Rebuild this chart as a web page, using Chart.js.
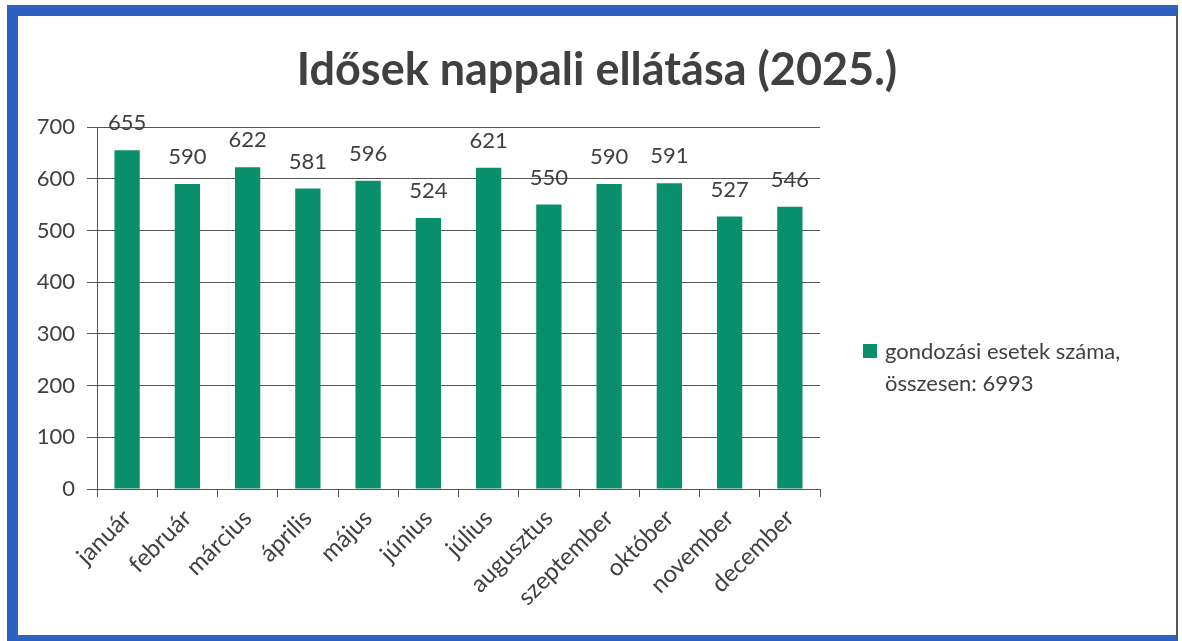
<!DOCTYPE html>
<html lang="hu">
<head>
<meta charset="utf-8">
<title>Idősek nappali ellátása (2025.)</title>
<script src="https://cdn.jsdelivr.net/npm/chart.js@4.4.1/dist/chart.umd.min.js"></script>
<style>
    html, body { margin: 0; padding: 0; background: #fff; }
    #keret {
        position: absolute;
        left: 7px; top: 5px;
        width: 1158px; height: 619px;
        border-top: 11px solid #2d62c2;
        border-left: 11px solid #2d62c2;
        border-bottom: 11px solid #2d62c2;
        border-right: 2px solid #555;
        background: #fff;
    }
    #grafika { display: block; }
</style>
</head>
<body>
<div id="keret">
    <canvas id="grafika" width="1158" height="619"></canvas>
</div>
<script>
const cim = 'Idősek nappali ellátása (2025.)';
const honapok = ['január', 'február', 'március', 'április', 'május', 'június',
    'július', 'augusztus', 'szeptember', 'október', 'november', 'december'];
const esetek = [655, 590, 622, 581, 596, 524, 621, 550, 590, 591, 527, 546];
const jelmagyarazat = ['gondozási esetek száma,', 'összesen: 6993'];
const yTickek = [0, 100, 200, 300, 400, 500, 600, 700];

const betu = 'Lato, "Open Sans", sans-serif';
const szovegSzin = '#404040';
const oszlopSzin = '#0a8f6c';

// cím, értékcímkék és jelmagyarázat rajzolása
const rajzoloPlugin = {
    id: 'rajzolo',
    afterDatasetsDraw(chart) {
        const ctx = chart.ctx;
        const meta = chart.getDatasetMeta(0);
        ctx.save();
        ctx.fillStyle = szovegSzin;
        ctx.font = '22px ' + betu;
        ctx.textAlign = 'center';
        ctx.textBaseline = 'middle';
        meta.data.forEach((bar, i) => {
            ctx.fillText(chart.data.datasets[0].data[i], bar.x, bar.y - 27);
        });

        ctx.font = 'bold 45px ' + betu;
        ctx.fillText(cim, chart.width / 2, 54);

        const area = chart.chartArea;
        const lx = area.right + 43;
        ctx.fillStyle = oszlopSzin;
        ctx.fillRect(lx, 328, 14, 14);
        ctx.fillStyle = szovegSzin;
        ctx.font = '22px ' + betu;
        ctx.textAlign = 'left';
        jelmagyarazat.forEach((sor, i) => {
            ctx.fillText(sor, lx + 22, 336 + i * 32);
        });
        ctx.restore();
    }
};

const ctx = document.getElementById('grafika').getContext('2d');
new Chart(ctx, {
    type: 'bar',
    data: {
        labels: honapok,
        datasets: [{
            label: jelmagyarazat.join(' '),
            data: esetek,
            backgroundColor: oszlopSzin,
            borderWidth: 0,
            barPercentage: 0.42,
            categoryPercentage: 1
        }]
    },
    options: {
        responsive: false,
        animation: false,
        layout: {
            padding: { top: 111, right: 356, left: 0, bottom: 0 }
        },
        scales: {
            x: {
                grid: {
                    offset: true,
                    drawOnChartArea: false,
                    drawTicks: true,
                    tickLength: 8,
                    color: '#555'
                },
                border: { color: '#555', width: 1 },
                ticks: {
                    color: szovegSzin,
                    font: { family: betu, size: 24 },
                    maxRotation: 45,
                    minRotation: 45,
                    padding: 7
                },
                afterFit(scale) { scale.height = 146; }
            },
            y: {
                min: 0,
                max: 700,
                afterBuildTicks(scale) {
                    scale.ticks = yTickek.map(v => ({ value: v }));
                },
                grid: {
                    color: '#555',
                    tickLength: 10
                },
                border: { color: '#555', width: 1 },
                ticks: {
                    color: szovegSzin,
                    font: { family: betu, size: 22 },
                    padding: 12
                },
                afterFit(scale) { scale.width = 79; }
            }
        },
        plugins: {
            legend: { display: false },
            title: { display: false },
            tooltip: { enabled: false }
        }
    },
    plugins: [rajzoloPlugin]
});
</script>
</body>
</html>
